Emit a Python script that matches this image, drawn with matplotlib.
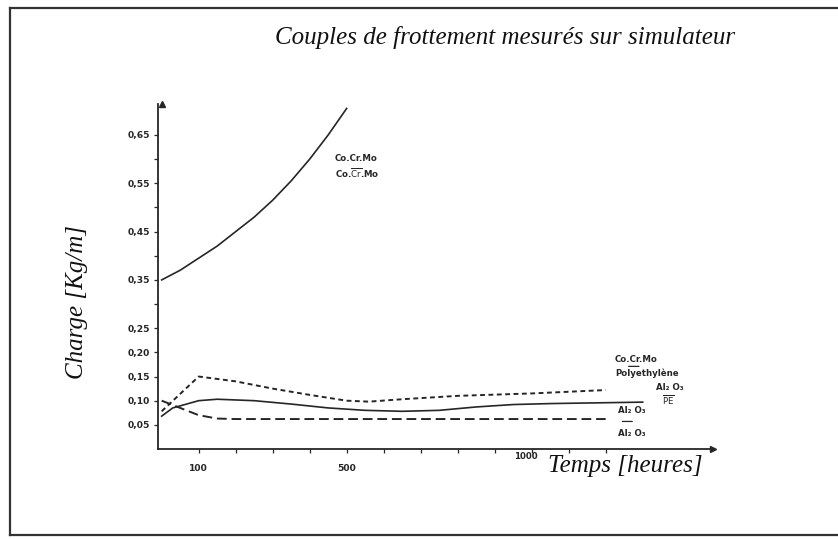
"""
Couples de frottement mesurés sur simulateur — redraw of a scanned figure.
Saves out.png (838x539).
"""

import matplotlib
matplotlib.use("Agg")
import matplotlib.pyplot as plt
from matplotlib.lines import Line2D

# ── Data ──────────────────────────────────────────────────────────────────────

hours_cocr_cocr = [0, 50, 100, 150, 200, 250, 300, 350, 400, 450, 500]
load_cocr_cocr  = [0.35, 0.37, 0.395, 0.42, 0.45, 0.48, 0.515, 0.555, 0.60, 0.65, 0.705]

hours_cocr_pe = [0, 100, 200, 300, 400, 500, 560, 650, 800, 1000, 1200]
load_cocr_pe  = [0.078, 0.150, 0.140, 0.125, 0.112, 0.100, 0.098, 0.103, 0.110, 0.115, 0.122]

hours_al_pe = [0, 30, 100, 150, 250, 350, 450, 550, 650, 750, 850, 950, 1050, 1300]
load_al_pe  = [0.068, 0.085, 0.100, 0.103, 0.100, 0.093, 0.085, 0.080, 0.078,
               0.080, 0.087, 0.092, 0.094, 0.097]

hours_al_al = [0, 50, 100, 150, 200, 1200]
load_al_al  = [0.100, 0.085, 0.070, 0.063, 0.062, 0.062]

y_ticks  = [0.05, 0.10, 0.15, 0.20, 0.25, 0.35, 0.45, 0.55, 0.65]
y_labels = ["0,05", "0,10", "0,15", "0,20", "0,25", "0,35", "0,45", "0,55", "0,65"]
y_minor  = [0.30, 0.40, 0.50, 0.60]
x_ticks  = list(range(100, 1300, 100))
x_labels = {100: "100", 500: "500"}

INK   = "#262626"
SERIF = "Liberation Serif"
SANS  = "DejaVu Sans"


def fraction_bar(ax, x0, x1, y):
    # short hand-drawn bar between two stacked material names
    ax.annotate("", xy=(x1, y), xytext=(x0, y),
                arrowprops=dict(arrowstyle="-", color=INK, lw=0.9,
                                shrinkA=0, shrinkB=0))


def main():
    fig = plt.figure(figsize=(8.38, 5.39), dpi=100)
    ax = fig.add_axes([0.1885, 0.167, 0.6623, 0.6408])

    # curves
    ax.plot(hours_cocr_cocr, load_cocr_cocr, color=INK, lw=1.2)
    ax.plot(hours_cocr_pe, load_cocr_pe, color=INK, lw=1.4, dashes=(2.5, 1.8))
    ax.plot(hours_al_pe, load_al_pe, color=INK, lw=1.2)
    ax.plot(hours_al_al, load_al_al, color=INK, lw=1.4, dashes=(5, 2.5))

    ax.set_xlim(-10, 1490)
    ax.set_ylim(0, 0.715)

    # axes look like a hand drawn frame: left + bottom with arrows
    for side in ("top", "right"):
        ax.spines[side].set_visible(False)
    for side in ("left", "bottom"):
        ax.spines[side].set_color(INK)
        ax.spines[side].set_linewidth(1.3)
    ax.plot(1, 0, ">", color=INK, ms=4, transform=ax.get_yaxis_transform(), clip_on=False)
    ax.plot(0, 1, "^", color=INK, ms=4, transform=ax.get_xaxis_transform(), clip_on=False)

    ax.set_yticks(y_ticks)
    ax.set_yticklabels(y_labels)
    ax.set_yticks(y_minor, minor=True)
    ax.set_xticks(x_ticks)
    ax.set_xticklabels([x_labels.get(t, "") for t in x_ticks])
    ax.tick_params(axis="both", which="both", colors=INK, length=3, width=0.9,
                   labelsize=6.6, pad=3)
    ax.tick_params(axis="x", pad=8)
    for lbl in ax.get_xticklabels() + ax.get_yticklabels():
        lbl.set_fontweight("bold")
        lbl.set_family(SANS)
    ax.annotate("1000", xy=(1000, 0), xytext=(-4, -2), textcoords="offset points",
                ha="center", va="top", fontsize=6.2, fontweight="bold", color=INK)

    # curve labels
    lab = dict(fontsize=6.2, fontweight="bold", color=INK, family=SANS, ha="left", va="center")
    ax.text(468, 0.602, "Co.Cr.Mo", **lab)
    ax.text(468, 0.571, r"Co.$\overline{\mathrm{Cr}}$.Mo", **lab)

    ax.text(1225, 0.186, "Co.Cr.Mo", **lab)
    fraction_bar(ax, 1262, 1290, 0.171)
    ax.text(1225, 0.156, "Polyethylène", **lab)
    ax.text(1335, 0.128, "Al₂ O₃", **lab)
    ax.text(1352, 0.101, r"$\overline{\mathrm{PE}}$", **lab)
    ax.text(1232, 0.080, "Al₂ O₃", **lab)
    fraction_bar(ax, 1245, 1272, 0.057)
    ax.text(1232, 0.033, "Al₂ O₃", **lab)

    # titles in italic serif
    fig.text(0.603, 0.930, "Couples de frottement mesurés sur simulateur",
             family=SERIF, style="italic", fontsize=18, color="#111",
             ha="center", va="center")
    fig.text(0.092, 0.440, "Charge [Kg/m]", rotation=90, family=SERIF, style="italic",
             fontsize=18, color="#111", ha="center", va="center")
    fig.text(0.746, 0.135, "Temps [heures]", family=SERIF, style="italic",
             fontsize=18, color="#111", ha="center", va="center")

    # page frame of the scan
    frame = dict(color="#333", lw=1.6, transform=fig.transFigure)
    fig.add_artist(Line2D([0.012, 0.012], [0.007, 0.985], **frame))
    fig.add_artist(Line2D([0.012, 1.0], [0.985, 0.985], **frame))
    fig.add_artist(Line2D([0.012, 1.0], [0.007, 0.007], **frame))

    fig.savefig("out.png", dpi=100, facecolor="white")
    plt.close(fig)


if __name__ == "__main__":
    main()
